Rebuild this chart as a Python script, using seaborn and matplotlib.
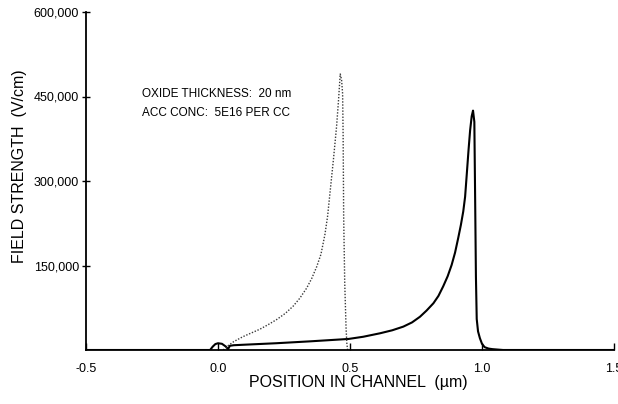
import matplotlib
matplotlib.use("Agg")
import matplotlib.pyplot as plt
import seaborn as sns

# Field strength along the channel (x in micrometres, field in V/cm)
solid_x = [-0.5, -0.1, -0.03, -0.02, -0.01, 0.0, 0.015, 0.03, 0.038, 0.045,
           0.06, 0.1, 0.22, 0.35, 0.494, 0.55, 0.614, 0.66, 0.702, 0.735,
           0.765, 0.79, 0.816, 0.835, 0.853, 0.87, 0.885, 0.898, 0.91, 0.92,
           0.929, 0.936, 0.942, 0.949, 0.955, 0.961, 0.966, 0.971, 0.974,
           0.977, 0.98, 0.985, 0.992, 1.0, 1.01, 1.025, 1.04, 1.08, 1.5]
solid_y = [0, 0, 0, 6000, 10500, 12000, 11000, 6000, 1500, 7500,
           8500, 9400, 12000, 15400, 19600, 23500, 29700, 35000, 41500, 49000,
           59000, 70000, 83000, 96000, 113000, 131000, 151000, 173000, 199000, 222000,
           246000, 272000, 310000, 355000, 390000, 415000, 425000, 405000, 270000,
           130000, 55000, 33000, 21000, 11000, 5000, 2500, 1500, 0, 0]

dotted_x = [0.02, 0.033, 0.06, 0.096, 0.13, 0.159, 0.19, 0.222, 0.255, 0.285,
            0.31, 0.336, 0.355, 0.374, 0.39, 0.405, 0.415, 0.424, 0.437, 0.449,
            0.456, 0.463, 0.468, 0.472, 0.474, 0.476, 0.48, 0.485, 0.488, 0.491]
dotted_y = [0, 6000, 15000, 24000, 31000, 37000, 45000, 54000, 65000, 78000,
            92000, 110000, 127000, 148000, 170000, 205000, 237000, 278000, 337000, 396000,
            440000, 490000, 480000, 455000, 380000, 237000, 120000, 40000, 12000, 0]

y_ticks = [150000, 300000, 450000, 600000]
y_tick_labels = ["150,000", "300,000", "450,000", "600,000"]
x_ticks = [-0.5, 0.0, 0.5, 1.0, 1.5]
x_tick_labels = ["-0.5", "0.0", "0.5", "1.0", "1.5"]

sns.set_theme(style="ticks")
plt.rcParams["font.family"] = ["Liberation Sans", "DejaVu Sans"]

fig = plt.figure(figsize=(6.18, 4.04), dpi=100)
ax = fig.add_axes([86 / 618, 54 / 404, 528 / 618, 338 / 404])

sns.lineplot(x=solid_x, y=solid_y, ax=ax, color="black", linewidth=1.5,
             sort=False, estimator=None)
sns.lineplot(x=dotted_x, y=dotted_y, ax=ax, color="#3a3a3a", linewidth=1.0,
             linestyle=(0, (1, 1.2)), sort=False, estimator=None)

ax.set_xlim(-0.5, 1.5)
ax.set_ylim(0, 600000)
ax.set_xticks(x_ticks)
ax.set_xticklabels(x_tick_labels)
ax.set_yticks(y_ticks)
ax.set_yticklabels(y_tick_labels)

sns.despine(ax=ax)
for side in ("left", "bottom"):
    ax.spines[side].set_color("black")
    ax.spines[side].set_linewidth(1.3)

ax.tick_params(axis="x", direction="in", length=5, width=1, pad=9,
               labelsize=9, colors="black")
ax.tick_params(axis="y", direction="inout", length=6, width=1, pad=2,
               labelsize=9, colors="black")

ax.set_xlabel("POSITION IN CHANNEL  (\u00b5m)", fontsize=11.5, color="black")
ax.xaxis.set_label_coords((358 - 86) / 528, -0.075)
ax.set_ylabel("FIELD STRENGTH  (V/cm)", fontsize=11.5, color="black")
ax.yaxis.set_label_coords(-0.112, 0.544)

ax.text(-0.288, 454000, "OXIDE THICKNESS:  20 nm", fontsize=8.5, va="center",
        color="black")
ax.text(-0.288, 420500, "ACC CONC:  5E16 PER CC", fontsize=8.5, va="center",
        color="black")

fig.savefig("out.png", dpi=100)
